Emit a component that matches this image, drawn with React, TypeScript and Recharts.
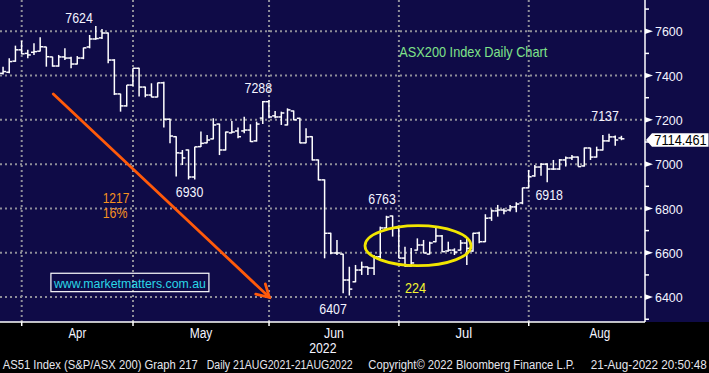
import {
  Bar,
  CartesianGrid,
  ComposedChart,
  ReferenceDot,
  ReferenceLine,
  XAxis,
  YAxis,
} from "recharts";

// trading sessions shown, 28 Mar 2022 .. 19 Aug 2022
const tradingDays = [
  "03-28", "03-29", "03-30", "03-31",
  "04-01", "04-04", "04-05", "04-06", "04-07", "04-08", "04-11", "04-12", "04-13", "04-14",
  "04-19", "04-20", "04-21", "04-22", "04-26", "04-27", "04-28", "04-29",
  "05-02", "05-03", "05-04", "05-05", "05-06", "05-09", "05-10", "05-11", "05-12", "05-13",
  "05-16", "05-17", "05-18", "05-19", "05-20", "05-23", "05-24", "05-25", "05-26", "05-27",
  "05-30", "05-31",
  "06-01", "06-02", "06-03", "06-06", "06-07", "06-08", "06-09", "06-10", "06-14", "06-15",
  "06-16", "06-17", "06-20", "06-21", "06-22", "06-23", "06-24", "06-27", "06-28", "06-29", "06-30",
  "07-01", "07-04", "07-05", "07-06", "07-07", "07-08", "07-11", "07-12", "07-13", "07-14",
  "07-15", "07-18", "07-19", "07-20", "07-21", "07-22", "07-25", "07-26", "07-27", "07-28", "07-29",
  "08-01", "08-02", "08-03", "08-04", "08-05", "08-08", "08-09", "08-10", "08-11", "08-12",
  "08-15", "08-16", "08-17", "08-18", "08-19",
];

const opens = [
  7410, 7415, 7465, 7516,
  7500, 7505, 7510, 7529, 7484, 7443, 7484, 7479, 7452, 7479, 7529, 7565, 7570, 7592, 7470, 7317, 7263, 7357,
  7433, 7348, 7312, 7303, 7367, 7203, 7124, 7050, 7064, 6942, 7079, 7096, 7114, 7181, 7064, 7141, 7150, 7150,
  7154, 7105, 7208, 7282,
  7218, 7213, 7177, 7240, 7207, 7096, 7124, 7019, 6929, 6688, 6599, 6594, 6477, 6469, 6522, 6536, 6531, 6582,
  6712, 6766, 6712,
  6576, 6540, 6612, 6635, 6594, 6650, 6676, 6608, 6612, 6612, 6644, 6608, 6689, 6650, 6757, 6789, 6793, 6793,
  6807, 6825, 6893,
  6947, 6987, 7000, 6978, 6978, 7019, 7028, 7032, 6992, 7073, 7032, 7064, 7105, 7123, 7118,
];

const highs = [
  7440, 7478, 7535, 7557,
  7516, 7546, 7573, 7530, 7485, 7493, 7523, 7485, 7488, 7526, 7583, 7624, 7610, 7594, 7474, 7318, 7357, 7433,
  7435, 7350, 7365, 7368, 7372, 7205, 7126, 7064, 7066, 7079, 7147, 7132, 7207, 7183, 7147, 7195, 7165, 7214,
  7180, 7192, 7285, 7290,
  7240, 7237, 7252, 7242, 7209, 7162, 7126, 7021, 6931, 6690, 6658, 6596, 6537, 6545, 6560, 6537, 6590, 6718,
  6767, 6768, 6714,
  6627, 6621, 6665, 6658, 6650, 6713, 6680, 6650, 6620, 6658, 6665, 6690, 6695, 6774, 6796, 6816, 6801, 6816,
  6828, 6894, 6974,
  6996, 7004, 7004, 7019, 7023, 7034, 7041, 7034, 7075, 7074, 7079, 7132, 7137, 7129, 7128,
];

const lows = [
  7405, 7410, 7462, 7496,
  7478, 7493, 7508, 7440, 7440, 7440, 7470, 7433, 7450, 7474, 7523, 7562, 7565, 7455, 7312, 7237, 7260, 7353,
  7305, 7302, 7302, 7302, 7165, 7094, 6944, 6996, 6931, 6931, 7077, 7094, 7112, 7041, 7062, 7140, 7117, 7140,
  7100, 7102, 7181, 7207,
  7207, 7177, 7175, 7198, 7094, 7094, 7017, 6927, 6575, 6593, 6590, 6417, 6407, 6467, 6500, 6500, 6500, 6575,
  6710, 6673, 6575,
  6537, 6537, 6610, 6598, 6593, 6648, 6603, 6605, 6590, 6610, 6545, 6605, 6643, 6648, 6744, 6763, 6774, 6786,
  6783, 6819, 6891,
  6943, 6948, 6918, 6974, 6974, 6989, 7019, 6989, 6989, 7019, 7030, 7062, 7101, 7083, 7108,
];

const closes = [
  7418, 7463, 7516, 7498,
  7493, 7508, 7530, 7485, 7443, 7484, 7479, 7452, 7479, 7525, 7565, 7567, 7592, 7470, 7317, 7263, 7357, 7433,
  7348, 7312, 7303, 7367, 7203, 7127, 7051, 7028, 6942, 7078, 7094, 7109, 7177, 7064, 7145, 7145, 7124, 7154,
  7102, 7181, 7282, 7213,
  7213, 7231, 7245, 7200, 7096, 7123, 7019, 6929, 6688, 6599, 6599, 6477, 6436, 6522, 6536, 6531, 6582, 6712,
  6761, 6712, 6576,
  6540, 6554, 6635, 6599, 6644, 6676, 6605, 6612, 6603, 6644, 6620, 6688, 6650, 6756, 6789, 6793, 6789, 6807,
  6820, 6893, 6943,
  6987, 7000, 6978, 6978, 7019, 7028, 7032, 6989, 7073, 7032, 7064, 7105, 7123, 7109, 7114.461,
];

const lastPrice = 7114.461;
const priceTicks = [6300, 6400, 6500, 6600, 6700, 6800, 6900, 7000, 7100, 7200, 7300, 7400, 7500, 7600, 7700];
const majorPriceTicks = [6400, 6600, 6800, 7000, 7200, 7400, 7600];

// session index (0 = 31 Mar) of the last session in each month
const monthEnds = [0, 18, 40, 61, 82];
const monthLabels = ["Apr", "May", "Jun", "Jul", "Aug"];
const monthLabelAt = [9, 29, 50.5, 71.5, 93.5];
const yearLabel = "2022";
const yearLabelAt = 48.7;

const priceCallouts = [
  { text: "7624", i: 9.27, v: 7636 },
  { text: "7288", i: 38.27, v: 7320 },
  { text: "6930", i: 27.14, v: 6853 },
  { text: "6763", i: 58.27, v: 6820 },
  { text: "6407", i: 50.35, v: 6324 },
  { text: "7137", i: 94.34, v: 7196 },
  { text: "6918", i: 85.3, v: 6838 },
];
const dropCallouts = [
  { text: "1217", i: 15.25, v: 6826 },
  { text: "16%", i: 15.1, v: 6756 },
];
const rangeCallout = { text: "224", i: 63.69, v: 6420 };
const titleCallout = { text: "ASX200 Index Daily Chart", i: 61.07, v: 7485 };
const siteCallout = { text: "www.marketmatters.com.au", i: 17.5, v: 6466 };
const consolidation = { i: 64.09, v: 6632 };
const trendArrow = [
  { x: 5.11, y: 7317 },
  { x: 40.05, y: 6399 },
];

const footer = [
  { text: "AS51 Index (S&P/ASX 200) Graph 217", x: 2.7, w: 195 },
  { text: "Daily 21AUG2021-21AUG2022", x: 206.7, w: 146 },
  { text: "Copyright\u00a9 2022 Bloomberg Finance L.P.", x: 368.3, w: 206.7 },
  { text: "21-Aug-2022 20:50:48", x: 590.7, w: 116 },
];

const rows = tradingDays.map((day, k) => ({
  day,
  i: k - 3,
  open: opens[k],
  high: highs[k],
  low: lows[k],
  close: closes[k],
}));

const FONT = "'Liberation Sans', Arial, sans-serif";
const NAVY = "#0f0b47";
const TEXT = "#f4f4ff";

function OhlcBar(props: any) {
  const { x, y, width, height, payload } = props;
  if (!payload || height == null) return null;
  const top = Math.min(y, y + height);
  const h = Math.abs(height);
  const span = payload.high - payload.low || 1;
  const py = (v: number) => top + ((payload.high - v) / span) * h;
  const cx = x + width / 2;
  return (
    <g stroke="#ffffff" strokeWidth={1.5}>
      <line x1={cx} x2={cx} y1={top} y2={top + h} />
      <line x1={cx - 3} x2={cx} y1={py(payload.open)} y2={py(payload.open)} />
      <line x1={cx} x2={cx + 3} y1={py(payload.close)} y2={py(payload.close)} />
    </g>
  );
}

const monthWidths = [17.7, 22.7, 20, 16.7, 20.7];

function MonthTick(props: any) {
  const { x, y, payload } = props;
  const v = payload.value;
  if (monthEnds.includes(v)) {
    return <line x1={x} x2={x} y1={y} y2={y + 4} stroke="#ffffff" strokeWidth={1.5} />;
  }
  const m = monthLabelAt.indexOf(v);
  if (m >= 0) {
    return (
      <text x={x} y={y + 15.5} textAnchor="middle" fill={TEXT} fontSize={14} fontFamily={FONT}
        textLength={monthWidths[m]} lengthAdjust="spacingAndGlyphs">
        {monthLabels[m]}
      </text>
    );
  }
  if (v === yearLabelAt) {
    return (
      <text x={x} y={y + 30.7} textAnchor="middle" fill={TEXT} fontSize={14} fontFamily={FONT}
        textLength={27.3} lengthAdjust="spacingAndGlyphs">
        {yearLabel}
      </text>
    );
  }
  return null;
}

function PriceTick(props: any) {
  const { x, y, payload } = props;
  const v = payload.value;
  if (v === lastPrice) {
    return (
      <g>
        <polygon
          points={`${x + 1},${y + 1.2} ${x + 7},${y - 5.5} ${x + 63.5},${y - 5.5} ${x + 63.5},${y + 7.9} ${x + 7},${y + 7.9}`}
          fill="#ffffff"
        />
        <text x={x + 9.3} y={y + 6.3} fill="#000000" fontSize={14} fontFamily={FONT}
          textLength={52.4} lengthAdjust="spacingAndGlyphs">
          {String(lastPrice)}
        </text>
      </g>
    );
  }
  if (majorPriceTicks.includes(v)) {
    return (
      <g>
        <polygon points={`${x},${y - 2.8} ${x + 8},${y} ${x},${y + 2.8}`} fill="#ffffff" />
        <text x={x + 10} y={y + 5.2} fill={TEXT} fontSize={13.5} fontFamily={FONT}
          textLength={27.7} lengthAdjust="spacingAndGlyphs">
          {v}
        </text>
      </g>
    );
  }
  return <line x1={x} x2={x + 4} y1={y} y2={y} stroke="#ffffff" strokeWidth={1.5} />;
}

function calloutShape(text: string, fill: string, width: number, anchor = "middle", size = 15) {
  return (p: any) => (
    <text x={p.cx} y={p.cy} textAnchor={anchor} fill={fill} fontSize={size} fontFamily={FONT}
      textLength={width} lengthAdjust="spacingAndGlyphs">
      {text}
    </text>
  );
}

function ArrowShape(props: any) {
  const { x1, y1, x2, y2 } = props;
  const ang = Math.atan2(y2 - y1, x2 - x1);
  const len = 14;
  const spread = Math.PI / 6;
  const b1 = `${x2 - len * Math.cos(ang - spread)},${y2 - len * Math.sin(ang - spread)}`;
  const b2 = `${x2 - len * Math.cos(ang + spread)},${y2 - len * Math.sin(ang + spread)}`;
  return (
    <g stroke="#ff5a0a" strokeWidth={2.8} fill="none" strokeLinecap="round">
      <line x1={x1} y1={y1} x2={x2} y2={y2} />
      <polyline points={`${b1} ${x2},${y2} ${b2}`} />
    </g>
  );
}

export default function App() {
  const xTicks = [...monthEnds, ...monthLabelAt, yearLabelAt];
  const yTicks = [...priceTicks, lastPrice];
  return (
    <div style={{ position: "absolute", left: 0, top: 0, width: 709, height: 373, background: "#000" }}>
      <div style={{ position: "absolute", left: 0, top: 0, width: 709, height: 322, background: NAVY }} />
      <div style={{ position: "absolute", left: 0, top: 0 }}>
        <ComposedChart width={709} height={373} data={rows} margin={{ top: 0, right: 0, bottom: 0, left: 0 }}>
          <CartesianGrid
            stroke="#8f8f99"
            strokeWidth={2}
            strokeDasharray="2 3"
            horizontalValues={majorPriceTicks}
            verticalValues={monthEnds}
          />
          <XAxis
            dataKey="i"
            type="number"
            domain={[-3.51, 100.8]}
            allowDataOverflow
            ticks={xTicks}
            interval={0}
            tickSize={0}
            tickMargin={0}
            tickLine={false}
            axisLine={{ stroke: "#ffffff", strokeWidth: 1.5 }}
            height={51}
            tick={<MonthTick />}
          />
          <YAxis
            orientation="right"
            type="number"
            domain={[6287.5, 7741]}
            allowDataOverflow
            ticks={yTicks}
            interval={0}
            tickSize={0}
            tickMargin={0}
            tickLine={false}
            axisLine={{ stroke: "#ffffff", strokeWidth: 1.5 }}
            width={64}
            tick={<PriceTick />}
          />
          <Bar
            dataKey={(d: any) => [d.low, d.high]}
            shape={OhlcBar}
            barSize={6}
            isAnimationActive={false}
          />
          <ReferenceLine segment={trendArrow} shape={ArrowShape} ifOverflow="visible" />
          <ReferenceDot
            x={consolidation.i}
            y={consolidation.v}
            shape={(p: any) => (
              <ellipse cx={p.cx} cy={p.cy} rx={53} ry={20} fill="none" stroke="#f2e600" strokeWidth={2.8} />
            )}
          />
          {priceCallouts.map((c) => (
            <ReferenceDot key={c.text} x={c.i} y={c.v} shape={calloutShape(c.text, TEXT, 27.5)} />
          ))}
          {dropCallouts.map((c) => (
            <ReferenceDot key={c.text} x={c.i} y={c.v}
              shape={calloutShape(c.text, "#f7921e", c.text.length === 4 ? 26.7 : 24.7)} />
          ))}
          <ReferenceDot x={rangeCallout.i} y={rangeCallout.v} shape={calloutShape(rangeCallout.text, "#f4f430", 21)} />
          <ReferenceDot x={titleCallout.i} y={titleCallout.v}
            shape={calloutShape(titleCallout.text, "#7fe38a", 148, "start")} />
          <ReferenceDot
            x={siteCallout.i}
            y={siteCallout.v}
            shape={(p: any) => (
              <g>
                <rect x={p.cx - 79} y={p.cy - 9.2} width={158} height={18.4} fill="none" stroke="#ffffff" strokeWidth={1.2} />
                <text x={p.cx} y={p.cy + 5.5} textAnchor="middle" fill="#2ad6e6" fontSize={13} fontFamily={FONT}
                  textLength={152} lengthAdjust="spacingAndGlyphs">
                  {siteCallout.text}
                </text>
              </g>
            )}
          />
        </ComposedChart>
      </div>
      <svg width={709} height={373} style={{ position: "absolute", left: 0, top: 0, pointerEvents: "none" }}>
        {footer.map((f) => (
          <text key={f.text} x={f.x} y={369} fill="#e6e6ee" fontSize={12.5} fontFamily={FONT}
            textLength={f.w} lengthAdjust="spacingAndGlyphs">
            {f.text}
          </text>
        ))}
      </svg>
    </div>
  );
}
